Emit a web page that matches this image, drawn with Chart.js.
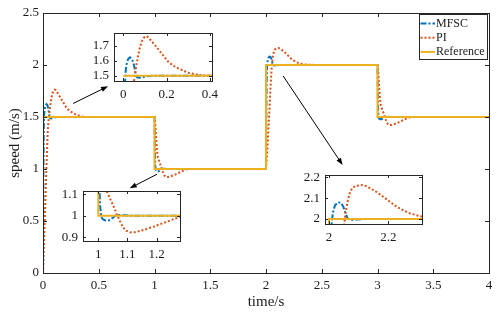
<!DOCTYPE html>
<html><head><meta charset="utf-8">
<script src="https://cdn.jsdelivr.net/npm/chart.js@4.4.0/dist/chart.umd.min.js"></script>
<style>
html,body{margin:0;padding:0;background:#fff;}
#wrap{position:relative;width:500px;height:315px;overflow:hidden;}
canvas{position:absolute;}
</style></head><body>
<div id="wrap"><canvas id="main" width="500" height="315" style="left:0;top:0;width:500px;height:315px"></canvas></div>
<script>
// ---------- data ----------
const seriesNames = ['MFSC', 'PI', 'Reference'];

const tRef = [0, 1, 1, 2, 2, 3, 3, 4];
const yRef = [1.5, 1.5, 1, 1, 2, 2, 1.5, 1.5];

const tMFSC = [0, 0.004, 0.007, 0.01, 0.015, 0.022, 0.031, 0.04, 0.047, 0.053, 0.058, 0.064, 0.075, 0.09, 0.11, 0.14,
  1.0, 1.003, 1.006, 1.01, 1.015, 1.022, 1.03, 1.04, 1.05, 1.058, 1.07, 1.09, 1.12,
  2.0, 2.003, 2.006, 2.009, 2.013, 2.02, 2.03, 2.04, 2.048, 2.055, 2.062, 2.07, 2.09, 2.12,
  3.0, 3.003, 3.006, 3.01, 3.015, 3.03, 3.045, 3.058, 3.08, 3.12, 4.0];
const yMFSC = [0, 1.0, 1.4, 1.52, 1.575, 1.61, 1.623, 1.612, 1.585, 1.545, 1.505, 1.49, 1.487, 1.49, 1.497, 1.5,
  1.5, 1.2, 1.05, 0.995, 0.984, 0.979, 0.977, 0.98, 0.99, 1.0, 1.003, 1.002, 1.0,
  1.0, 1.5, 1.85, 1.98, 2.03, 2.065, 2.08, 2.078, 2.06, 2.03, 2.005, 1.995, 1.997, 2.0,
  2.0, 1.7, 1.55, 1.495, 1.484, 1.477, 1.483, 1.5, 1.503, 1.5, 1.5];

const tPI = [0, 0.01, 0.02, 0.03, 0.036, 0.042, 0.048, 0.054, 0.061, 0.069, 0.077, 0.085, 0.094, 0.103, 0.112, 0.125, 0.146, 0.177, 0.208, 0.23, 0.254, 0.3, 0.347, 0.393, 0.45,
  1.0, 1.005, 1.01, 1.015, 1.02, 1.025, 1.03, 1.04, 1.052, 1.064, 1.075, 1.085, 1.095, 1.11, 1.125, 1.144, 1.165, 1.19, 1.215, 1.236, 1.26, 1.28, 1.32,
  2.0, 2.01, 2.02, 2.03, 2.04, 2.05, 2.056, 2.062, 2.071, 2.08, 2.09, 2.11, 2.125, 2.138, 2.16, 2.183, 2.205, 2.228, 2.25, 2.273, 2.306, 2.35, 2.45,
  3.0, 3.005, 3.01, 3.015, 3.02, 3.025, 3.03, 3.04, 3.052, 3.064, 3.075, 3.085, 3.095, 3.11, 3.125, 3.144, 3.165, 3.19, 3.215, 3.236, 3.26, 3.28, 3.32, 4.0];
const yPI = [0, 0.32, 0.65, 0.98, 1.17, 1.35, 1.45, 1.51, 1.575, 1.638, 1.69, 1.727, 1.752, 1.763, 1.76, 1.74, 1.705, 1.649, 1.593, 1.568, 1.549, 1.52, 1.505, 1.5, 1.5,
  1.5, 1.46, 1.38, 1.29, 1.21, 1.15, 1.11, 1.08, 1.045, 1.005, 0.972, 0.945, 0.93, 0.922, 0.923, 0.929, 0.938, 0.949, 0.962, 0.972, 0.985, 0.994, 1.0,
  1.0, 1.15, 1.35, 1.56, 1.77, 1.96, 2.03, 2.08, 2.13, 2.15, 2.159, 2.163, 2.158, 2.148, 2.13, 2.107, 2.083, 2.059, 2.042, 2.027, 2.014, 2.005, 2.0,
  2.0, 1.96, 1.88, 1.79, 1.71, 1.65, 1.61, 1.58, 1.545, 1.505, 1.472, 1.445, 1.43, 1.422, 1.423, 1.429, 1.438, 1.449, 1.462, 1.472, 1.485, 1.494, 1.5, 1.5];

// main axes
const xRange = [0, 4];
const yRange = [0, 2.5];
const xTicks = [0, 0.5, 1, 1.5, 2, 2.5, 3, 3.5, 4];
const yTicks = [0, 0.5, 1, 1.5, 2, 2.5];

// insets: axis ranges and ticks
const inset1X = [-0.043, 0.41], inset1Y = [1.465, 1.785];
const inset1XTicks = [0, 0.2, 0.4], inset1YTicks = [1.5, 1.6, 1.7];
const inset2X = [0.9476, 1.2798], inset2Y = [0.882, 1.115];
const inset2XTicks = [1, 1.1, 1.2], inset2YTicks = [0.9, 1, 1.1];
const inset3X = [1.9865, 2.3137], inset3Y = [1.976, 2.211];
const inset3XTicks = [2, 2.2], inset3YTicks = [2, 2.1, 2.2];

// arrows (tail t, tail v, head t, head v) in main data units
const arrows = [
  [0.27, 1.63, 0.583, 1.795],
  [1.023, 0.95, 0.778, 0.815],
  [2.154, 1.894, 2.687, 1.039]
];

// ---------- chart ----------
Chart.defaults.font.family = "'Liberation Serif', 'Times New Roman', serif";
Chart.defaults.color = '#1a1a1a';

function pts(t, v) { return t.map((x, i) => ({x: x, y: v[i]})); }

function makeDatasets() {
  return [
    {label: seriesNames[0], data: pts(tMFSC, yMFSC), borderColor: '#0072BD', borderDash: [6, 2, 2, 2], borderWidth: 2, order: 3},
    {label: seriesNames[1], data: pts(tPI, yPI), borderColor: '#D95319', borderDash: [2, 2], borderWidth: 2, order: 2},
    {label: seriesNames[2], data: pts(tRef, yRef), borderColor: '#EDB120', borderDash: [], borderWidth: 2, order: 1}
  ].map(d => Object.assign({pointRadius: 0, tension: 0, fill: false}, d));
}

function axisCfg(range, ticksArr, pad, fit) {
  return {
    type: 'linear', min: range[0], max: range[1],
    grid: {display: false, drawTicks: false, tickLength: 0}, border: {display: false},
    afterBuildTicks: s => { s.ticks = ticksArr.map(v => ({value: v})); },
    afterFit: fit,
    ticks: {font: {size: 13}, color: '#1a1a1a', padding: pad, autoSkip: false, maxRotation: 0, callback: v => String(v)}
  };
}

const frame = {
  id: 'frame',
  beforeDraw(chart, args, opts) {
    if (opts.bg) {
      const a = chart.chartArea, ctx = chart.ctx;
      ctx.save(); ctx.fillStyle = '#fff';
      ctx.fillRect(a.left, a.top, a.right - a.left, a.bottom - a.top);
      ctx.restore();
    }
  },
  afterDraw(chart, args, opts) {
    const {ctx, chartArea: a, scales: {x, y}} = chart;
    const L = opts.len || 4;
    ctx.save();
    ctx.strokeStyle = '#262626'; ctx.lineWidth = 1; ctx.setLineDash([]);
    ctx.beginPath();
    x.ticks.forEach(t => {
      const p = Math.round(x.getPixelForValue(t.value)) + 0.5;
      ctx.moveTo(p, a.bottom); ctx.lineTo(p, a.bottom - L);
      ctx.moveTo(p, a.top); ctx.lineTo(p, a.top + L);
    });
    y.ticks.forEach(t => {
      const p = Math.round(y.getPixelForValue(t.value)) + 0.5;
      ctx.moveTo(a.left, p); ctx.lineTo(a.left + L, p);
      ctx.moveTo(a.right, p); ctx.lineTo(a.right - L, p);
    });
    ctx.stroke();
    ctx.strokeRect(Math.round(a.left) + 0.5, Math.round(a.top) + 0.5, Math.round(a.right - a.left), Math.round(a.bottom - a.top));
    ctx.restore();
  }
};

const decor = {
  id: 'decor',
  afterDatasetsDraw(chart) {
    const {ctx, scales: {x, y}} = chart;
    ctx.save();
    ctx.strokeStyle = '#000'; ctx.fillStyle = '#000'; ctx.lineWidth = 1; ctx.setLineDash([]);
    arrows.forEach(r => {
      const x0 = x.getPixelForValue(r[0]), y0 = y.getPixelForValue(r[1]);
      const x1 = x.getPixelForValue(r[2]), y1 = y.getPixelForValue(r[3]);
      const ang = Math.atan2(y1 - y0, x1 - x0), hl = 7, hw = 2.6;
      const c = Math.cos(ang), s = Math.sin(ang);
      ctx.beginPath(); ctx.moveTo(x0, y0); ctx.lineTo(x1 - hl * 0.7 * c, y1 - hl * 0.7 * s); ctx.stroke();
      ctx.beginPath(); ctx.moveTo(x1, y1);
      ctx.lineTo(x1 - hl * c + hw * s, y1 - hl * s - hw * c);
      ctx.lineTo(x1 - hl * c - hw * s, y1 - hl * s + hw * c);
      ctx.closePath(); ctx.fill();
    });
    ctx.restore();
  },
  afterDraw(chart) {
    const {ctx, chartArea: a} = chart;
    const lx = Math.round(a.right) - 70, ly = Math.round(a.top) + 1, lw = 68, lh = 45;
    ctx.save();
    ctx.fillStyle = '#fff'; ctx.fillRect(lx, ly, lw, lh);
    ctx.strokeStyle = '#262626'; ctx.lineWidth = 1; ctx.setLineDash([]);
    ctx.strokeRect(lx + 0.5, ly + 0.5, lw, lh);
    ctx.font = "12px 'Liberation Serif', 'Times New Roman', serif";
    ctx.textBaseline = 'middle'; ctx.textAlign = 'left';
    chart.data.datasets.forEach((d, i) => {
      const yy = ly + 9.5 + i * 14.2;
      ctx.strokeStyle = d.borderColor; ctx.lineWidth = d.borderWidth; ctx.setLineDash(d.borderDash || []);
      ctx.beginPath(); ctx.moveTo(lx + 1.5, yy); ctx.lineTo(lx + 16, yy); ctx.stroke();
      ctx.fillStyle = '#1a1a1a';
      ctx.fillText(d.label, lx + 17, yy);
    });
    ctx.restore();
  }
};

new Chart(document.getElementById('main'), {
  type: 'line',
  data: {datasets: makeDatasets()},
  options: {
    responsive: false, animation: false, devicePixelRatio: 1, events: [],
    layout: {padding: {left: 0, top: 13, right: 11, bottom: 0}},
    plugins: {legend: {display: false}, tooltip: {enabled: false}, frame: {len: 4}},
    scales: {
      x: Object.assign(axisCfg(xRange, xTicks, 5, s => { s.height = 42; }),
        {title: {display: true, text: 'time/s', font: {size: 15}, color: '#1a1a1a', padding: {top: 0, bottom: 3.5}}}),
      y: Object.assign(axisCfg(yRange, yTicks, 4, s => { s.width = 43; }),
        {title: {display: true, text: 'speed (m/s)', font: {size: 15}, color: '#1a1a1a', padding: {top: 6, bottom: 0}}})
    }
  },
  plugins: [frame, decor]
});

const wrap = document.getElementById('wrap');
function makeInset(box, xr, yr, xt, yt) {
  const ML = 32, MT = 16, MR = 14, MB = 24;
  const c = document.createElement('canvas');
  const W = box[2] - box[0] + ML + MR, H = box[3] - box[1] + MT + MB;
  c.width = W; c.height = H;
  c.style.left = (box[0] - ML) + 'px'; c.style.top = (box[1] - MT) + 'px';
  c.style.width = W + 'px'; c.style.height = H + 'px';
  wrap.appendChild(c);
  new Chart(c, {
    type: 'line',
    data: {datasets: makeDatasets()},
    options: {
      responsive: false, animation: false, devicePixelRatio: 1, events: [],
      layout: {padding: {left: 0, top: MT, right: MR, bottom: 0}},
      plugins: {legend: {display: false}, tooltip: {enabled: false}, frame: {len: 3, bg: true}},
      scales: {
        x: axisCfg(xr, xt, 6, s => { s.height = MB; }),
        y: axisCfg(yr, yt, 5, s => { s.width = ML; })
      }
    },
    plugins: [frame]
  });
}
makeInset([114, 33, 212, 81], inset1X, inset1Y, inset1XTicks, inset1YTicks);
makeInset([83, 191, 180, 241], inset2X, inset2Y, inset2XTicks, inset2YTicks);
makeInset([325, 175, 422, 224], inset3X, inset3Y, inset3XTicks, inset3YTicks);
</script>
</body></html>
